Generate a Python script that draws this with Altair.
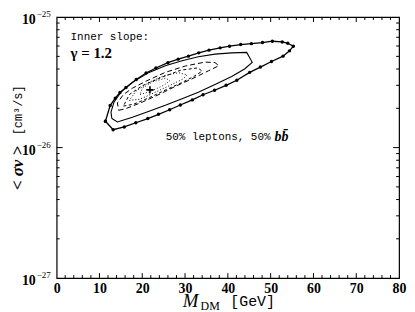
import altair as alt
import pandas as pd

# ---------------- data ----------------
# outermost contour (solid, with markers), sigma v in units of 1e-26
outer_m = [11.4, 13.2, 15.8, 18.5, 21.3, 23.8, 26.4, 28.9, 31.7, 34.2, 36.9, 39.6, 42.1, 45.1, 47.6,
           50.2, 52.9, 54.4, 55.3, 54.0, 52.7, 50.4, 48.1, 45.5, 43.0, 40.4, 38.2, 35.6, 33.2, 30.8,
           28.4, 26.0, 23.2, 20.9, 18.6, 16.2, 14.8, 13.7, 12.5, 11.4]
outer_sv = [1.59, 1.37, 1.44, 1.55, 1.67, 1.80, 1.95, 2.12, 2.32, 2.54, 2.75, 3.00, 3.28, 3.77, 4.14,
            4.57, 5.02, 5.51, 5.98, 6.30, 6.45, 6.53, 6.38, 6.26, 6.16, 5.98, 5.81, 5.58, 5.32, 5.02,
            4.76, 4.47, 4.07, 3.73, 3.32, 2.89, 2.64, 2.39, 2.10, 1.59]

solid_m = [12.9, 14.2, 17.7, 21.6, 25.4, 29.3, 33.1, 37.0, 40.9, 43.9, 45.7, 44.4, 40.9, 37.0, 33.1,
           29.3, 25.4, 21.6, 17.7, 15.0, 13.4, 12.7, 12.9]
solid_sv = [1.67, 1.57, 1.71, 1.90, 2.11, 2.37, 2.66, 3.04, 3.50, 4.00, 4.50, 5.36, 5.32, 5.20, 4.96,
            4.63, 4.24, 3.77, 3.16, 2.66, 2.23, 1.87, 1.67]

dashed_m = [14.5, 16.2, 20.0, 23.9, 27.7, 31.6, 35.5, 37.9, 37.0, 34.7, 30.1, 25.4, 20.8, 17.7, 15.6, 14.2, 14.5]
dashed_sv = [1.93, 1.99, 2.23, 2.55, 2.94, 3.36, 3.88, 4.24, 4.48, 4.52, 4.22, 3.77, 3.22, 2.85, 2.55, 2.20, 1.93]

dashdot_m = [15.6, 18.0, 21.5, 25.0, 29.0, 32.0, 34.0, 33.0, 29.0, 24.5, 20.0, 17.0, 15.6]
dashdot_sv = [2.08, 2.15, 2.40, 2.72, 3.12, 3.50, 3.85, 4.08, 3.92, 3.45, 2.98, 2.55, 2.08]

dotted_m = [17.0, 19.5, 23.0, 26.5, 29.5, 30.5, 28.5, 25.0, 21.5, 18.5, 17.0]
dotted_sv = [2.30, 2.35, 2.65, 3.00, 3.35, 3.60, 3.75, 3.55, 3.15, 2.70, 2.30]

dotted2_m = [19.5, 22.0, 25.0, 26.5, 25.5, 22.5, 20.0, 19.5]
dotted2_sv = [2.55, 2.70, 3.00, 3.25, 3.40, 3.20, 2.85, 2.55]

best_m = [21.8]
best_sv = [2.77]

x_ticks = [0, 10, 20, 30, 40, 50, 60, 70, 80]
x_minor = [v for v in range(2, 80, 2) if v % 10 != 0]
x_major = [10, 20, 30, 40, 50, 60, 70]
y_major_labels = [1e-27, 1e-26, 1e-25]
y_label_exp = ["\u221227", "\u221226", "\u221225"]
y_minor = [k * 10.0 ** e for e in (-27, -26) for k in range(2, 10)]
y_major = [1e-26]

# ---------------- chart ----------------
W, H = 345, 263
xs = alt.Scale(domain=[0, 80], nice=False, zero=False)
ys = alt.Scale(type="log", domain=[1e-27, 1e-25], nice=False)
xaxis = alt.Axis(values=x_ticks, ticks=False, domain=False, grid=False, title=None,
                 labelFont="Liberation Serif", labelFontWeight="bold", labelFontSize=14,
                 labelColor="black", labelPadding=3, labelFlush=False)
X = alt.X("m:Q", scale=xs, axis=xaxis)
Y = alt.Y("sv:Q", scale=ys, axis=None)


def df(ms, svs, scale=1e-26):
    return pd.DataFrame({"m": ms, "sv": [v * scale for v in svs], "i": list(range(len(ms)))})


def contour(ms, svs, width=1.0, dash=None):
    kw = dict(color="black", strokeWidth=width, clip=True)
    if dash:
        kw["strokeDash"] = dash
    return alt.Chart(df(ms, svs)).mark_line(**kw).encode(x=X, y=Y, order="i:Q")


layers = [
    contour(outer_m, outer_sv, 1.3),
    alt.Chart(df(outer_m, outer_sv)).mark_circle(color="black", size=12, opacity=1).encode(x=X, y=Y),
    contour(solid_m, solid_sv, 1.1),
    contour(dashed_m, dashed_sv, 1.0, [5, 3]),
    contour(dashdot_m, dashdot_sv, 1.0, [3, 2.5]),
    contour(dotted_m, dotted_sv, 1.0, [1, 2]),
    contour(dotted2_m, dotted2_sv, 0.9, [1, 2]),
    alt.Chart(df(best_m, best_sv)).mark_point(shape="M-1,0L1,0M0,-1L0,1", size=56, color="black",
                                              strokeWidth=1.6, filled=False, opacity=1).encode(x=X, y=Y),
]


# inward ticks on all four sides
def xt(vals, top, ln):
    d = pd.DataFrame({"m": vals})
    if top:
        return alt.Chart(d).mark_rule(color="black", strokeWidth=1).encode(x=X, y=alt.value(0), y2=alt.value(ln))
    return alt.Chart(d).mark_rule(color="black", strokeWidth=1).encode(x=X, y=alt.value(H), y2=alt.value(H - ln))


def yt(vals, right, ln):
    d = pd.DataFrame({"sv": vals})
    if right:
        return alt.Chart(d).mark_rule(color="black", strokeWidth=1).encode(y=Y, x=alt.value(W), x2=alt.value(W - ln))
    return alt.Chart(d).mark_rule(color="black", strokeWidth=1).encode(y=Y, x=alt.value(0), x2=alt.value(ln))


layers += [xt(x_minor, False, 3), xt(x_major, False, 5), xt(x_minor, True, 3), xt(x_major, True, 5),
           yt(y_minor, False, 3), yt(y_major, False, 6), yt(y_minor, True, 3), yt(y_major, True, 6)]

# y tick labels 10^n
ylab = pd.DataFrame({"sv": y_major_labels, "e": y_label_exp})
layers.append(alt.Chart(ylab).mark_text(text="10", font="Liberation Serif", fontWeight="bold", fontSize=14,
                                        align="right", baseline="middle", dy=3, color="black")
              .encode(y=Y, x=alt.value(-21)))
layers.append(alt.Chart(ylab).mark_text(font="Liberation Serif", fontSize=9, align="left",
                                        baseline="middle", dy=-3, color="black")
              .encode(y=Y, x=alt.value(-20), text="e:N"))

# annotations in data coordinates
ann = pd.DataFrame({"m": [3.25], "sv": [7.05e-26]})
layers.append(alt.Chart(ann).mark_text(text="Inner slope:", font="Liberation Mono", fontSize=11,
                                       align="left", baseline="middle", color="black").encode(x=X, y=Y))
ann2 = pd.DataFrame({"m": [3.25], "sv": [5.32e-26]})
layers.append(alt.Chart(ann2).mark_text(text="\u03b3 = 1.2", font="Liberation Serif", fontSize=15,
                                        fontWeight="bold", align="left", baseline="middle",
                                        color="black").encode(x=X, y=Y))
ann3 = pd.DataFrame({"m": [25.5], "sv": [1.2e-26]})
layers.append(alt.Chart(ann3).mark_text(text="50% leptons, 50% ", font="Liberation Mono", fontSize=11,
                                        align="left", baseline="middle", color="black").encode(x=X, y=Y))
ann4 = pd.DataFrame({"m": [50.9], "sv": [1.2e-26]})
layers.append(alt.Chart(ann4).mark_text(text="bb\u0304", font="Liberation Serif", fontSize=14,
                                        fontStyle="italic", fontWeight="bold", align="left",
                                        baseline="middle", color="black").encode(x=X, y=Y))

# axis titles
layers.append(alt.Chart(ann).mark_text(text="M", font="Liberation Serif", fontSize=19, fontStyle="italic",
                                       align="left", baseline="alphabetic", color="black")
              .encode(x=alt.value(127), y=alt.value(292)))
layers.append(alt.Chart(ann).mark_text(text="DM", font="Liberation Serif", fontSize=12,
                                       align="left", baseline="alphabetic", color="black")
              .encode(x=alt.value(145), y=alt.value(295)))
layers.append(alt.Chart(ann).mark_text(text="[GeV]", font="Liberation Mono", fontSize=15,
                                       align="left", baseline="alphabetic", color="black")
              .encode(x=alt.value(175), y=alt.value(291)))
layers.append(alt.Chart(ann).mark_text(text="<  \u03c3v  >", font="Liberation Serif", fontSize=17,
                                       fontStyle="italic", fontWeight="bold", angle=270, align="center",
                                       baseline="middle", color="black")
              .encode(x=alt.value(-39), y=alt.value(152)))
layers.append(alt.Chart(ann).mark_text(text="[cm\u00b3/s]", font="Liberation Mono", fontSize=12,
                                       angle=270, align="center", baseline="middle", color="black")
              .encode(x=alt.value(-39), y=alt.value(94)))

chart = alt.layer(*layers).properties(
    width=W, height=H, autosize="none",
    padding={"left": 49, "top": 8, "right": 8, "bottom": 33},
    background="white",
).configure_view(stroke="black", strokeWidth=1.2)

chart.save("out.html", embed_options={"renderer": "svg", "actions": False})
